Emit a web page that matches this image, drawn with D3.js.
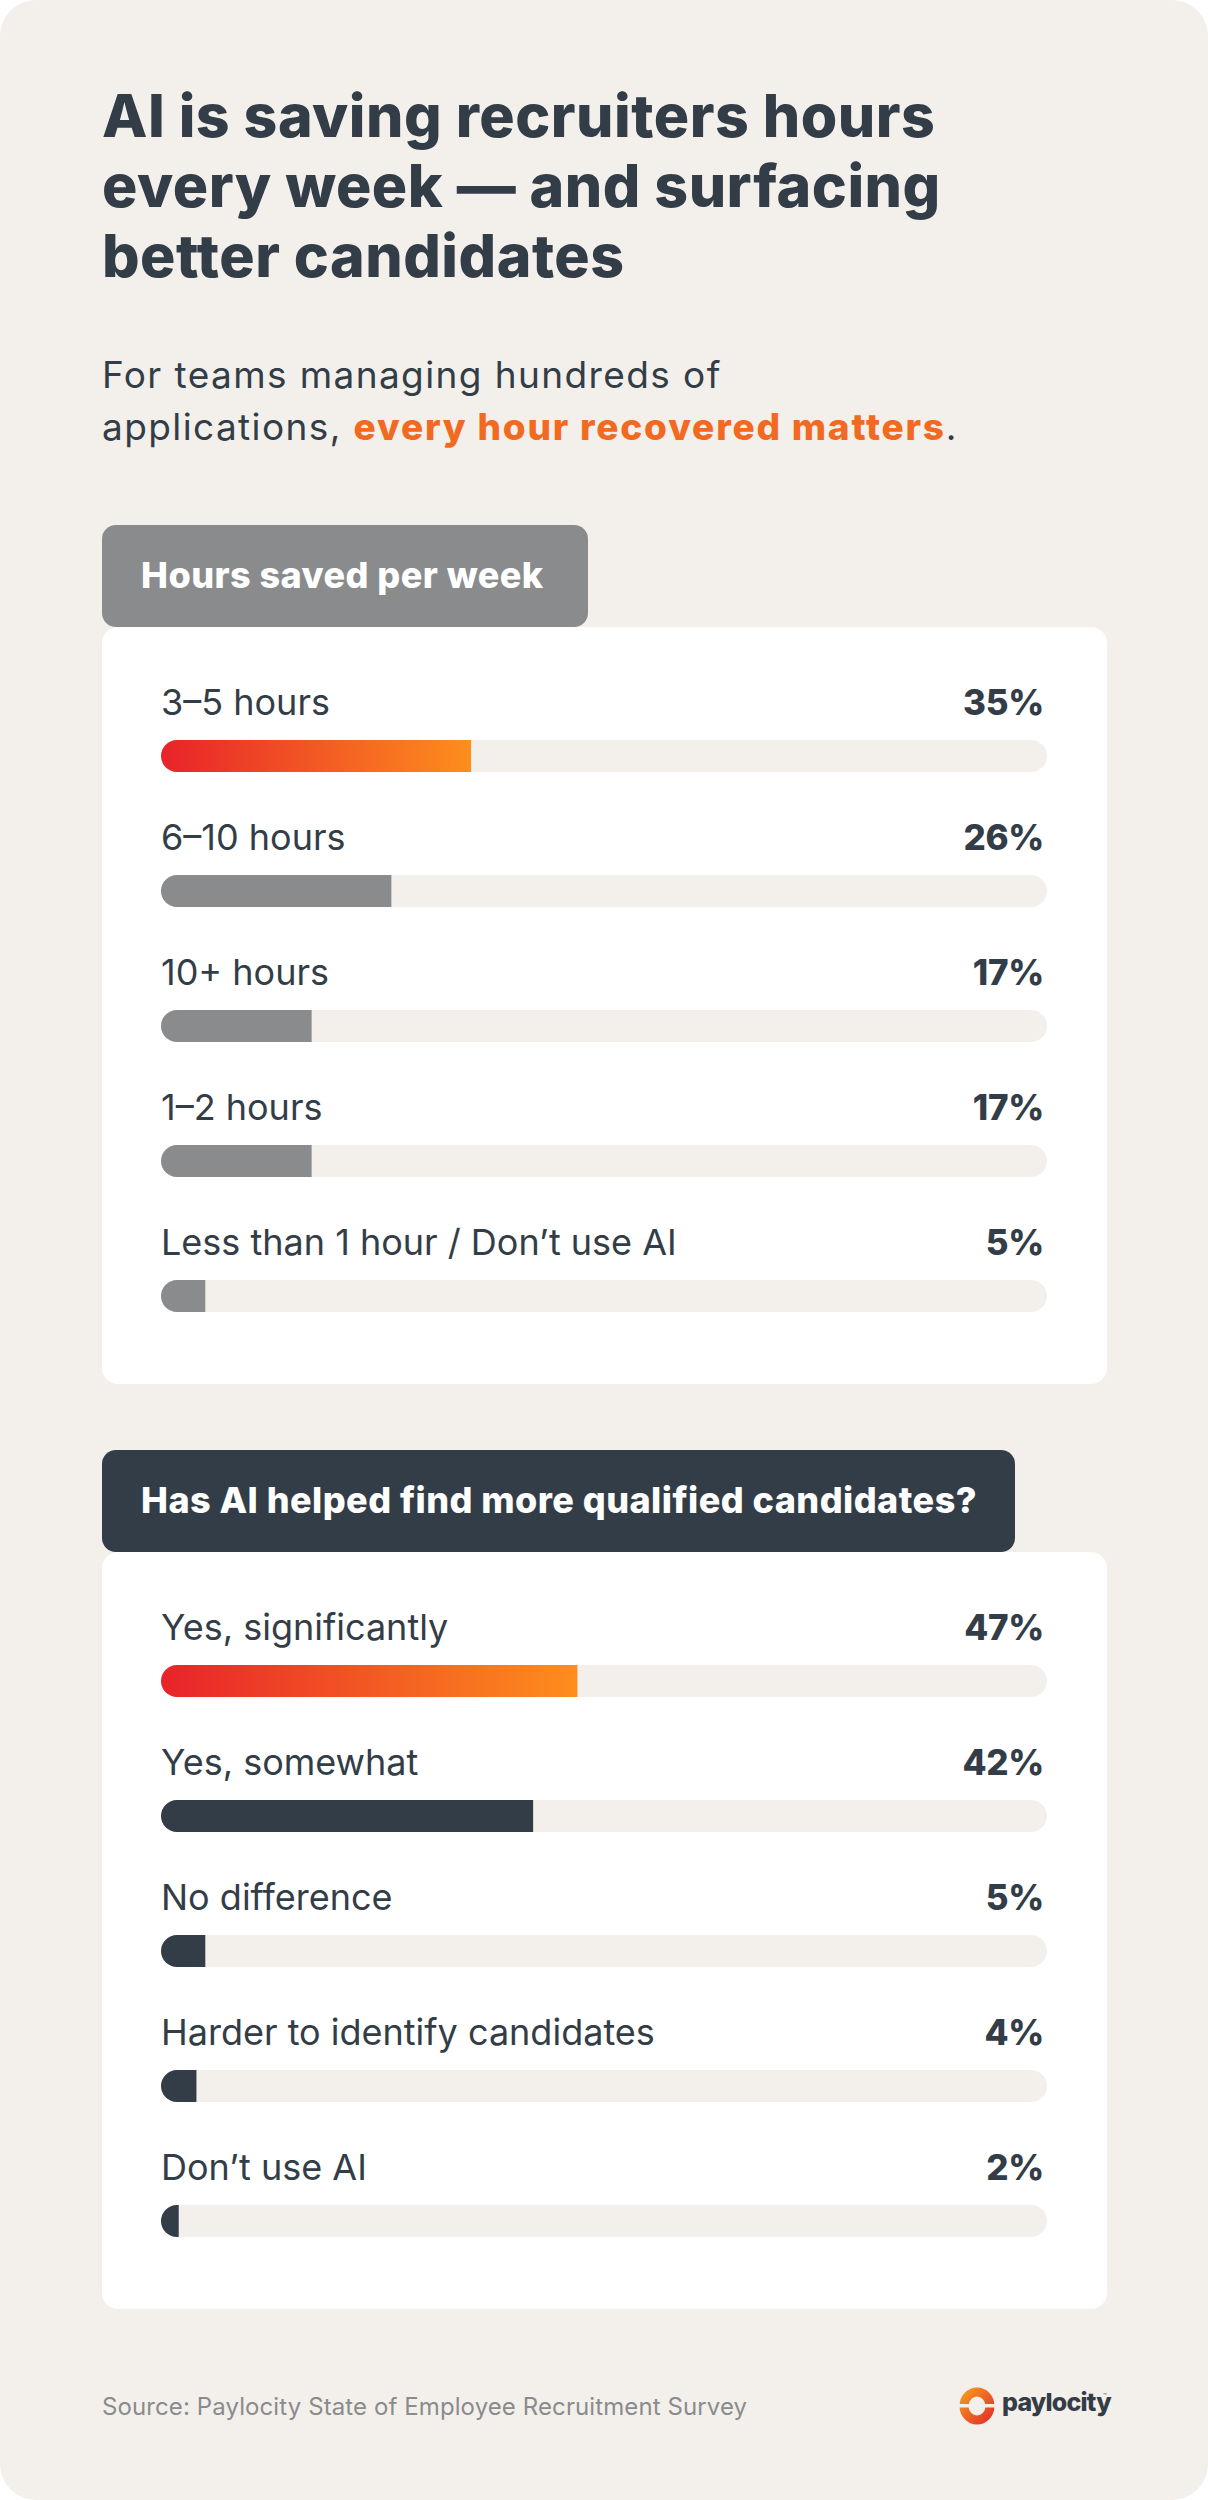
<!DOCTYPE html>
<html><head><meta charset="utf-8">
<script src="https://cdn.jsdelivr.net/npm/d3@7"></script>
<style>
html,body{margin:0;padding:0;background:#fff;}
svg{display:block;font-family:Inter,"Noto Sans",sans-serif;}
</style></head>
<body>
<script>
const titleLines = ["AI is saving recruiters hours", "every week — and surfacing", "better candidates"];
const subtitleLine1 = "For teams managing hundreds of";
const subtitleLine2a = "applications, ";
const subtitleHighlight = "every hour recovered matters";
const subtitleLine2b = ".";

const hoursTitle = "Hours saved per week";
const hoursLabels = ["3–5 hours", "6–10 hours", "10+ hours", "1–2 hours", "Less than 1 hour / Don’t use AI"];
const hoursValues = [35, 26, 17, 17, 5];

const qualTitle = "Has AI helped find more qualified candidates?";
const qualLabels = ["Yes, significantly", "Yes, somewhat", "No difference", "Harder to identify candidates", "Don’t use AI"];
const qualValues = [47, 42, 5, 4, 2];

const sourceText = "Source: Paylocity State of Employee Recruitment Survey";
const brandText = "paylocity";

const W = 1208, H = 2500;
const dark = "#333d47", gray = "#8a8b8d", bg = "#f3f0eb", orange = "#f26a21";

const svg = d3.select("body").append("svg").attr("width", W).attr("height", H);
const defs = svg.append("defs");
const grad = defs.append("linearGradient").attr("id", "hot").attr("x1", "0%").attr("x2", "100%").attr("y1", "0%").attr("y2", "0%");
grad.append("stop").attr("offset", "0%").attr("stop-color", "#e8232a");
grad.append("stop").attr("offset", "100%").attr("stop-color", "#fd8e1d");
const lgrad = defs.append("linearGradient").attr("id", "logoG").attr("x1", "0%").attr("x2", "100%").attr("y1", "0%").attr("y2", "100%");
lgrad.append("stop").attr("offset", "0%").attr("stop-color", "#f7941d");
lgrad.append("stop").attr("offset", "100%").attr("stop-color", "#e2352a");

// background
svg.append("rect").attr("x", 0).attr("y", 0).attr("width", W).attr("height", H).attr("rx", 36).attr("fill", bg);

// title
const tg = svg.append("text").attr("fill", dark).attr("font-weight", 800).attr("font-size", 59).attr("letter-spacing", 0.5);
titleLines.forEach((t, i) => tg.append("tspan").attr("x", 102).attr("y", 137 + i * 70).text(t));

// subtitle
const st = svg.append("text").attr("fill", dark).attr("font-size", 37).attr("letter-spacing", 1.4);
st.append("tspan").attr("x", 102).attr("y", 388).text(subtitleLine1);
st.append("tspan").text(subtitleLine2a).attr("x", 102).attr("y", 440);
st.append("tspan").text(subtitleHighlight).attr("fill", orange).attr("font-weight", 800).attr("letter-spacing", 1.8);
st.append("tspan").text(subtitleLine2b);

const x = d3.scaleLinear().domain([0, 100]).range([161, 1047]);
const barH = 32, pitch = 135;

function section(top, tabW, tabColor, title, labels, values, fillColor, id) {
  const g = svg.append("g");
  const cardTop = top + 102;
  const cardBottom = cardTop + 86 + 27 + 4 * pitch + barH + 72;
  g.append("rect").attr("x", 102).attr("y", cardTop).attr("width", 1005).attr("height", cardBottom - cardTop).attr("rx", 16).attr("fill", "#fff");
  g.append("rect").attr("x", 102).attr("y", top).attr("width", tabW).attr("height", 102).attr("rx", 14).attr("fill", tabColor);
  g.append("text").attr("x", 141).attr("y", top + 63).attr("fill", "#fff").attr("font-weight", 800).attr("font-size", 36).attr("letter-spacing", 0.45).text(title);

  const rows = g.selectAll("g.row").data(labels.map((l, i) => ({ l, v: values[i], i }))).join("g").attr("class", "row")
    .attr("transform", d => `translate(0,${cardTop + 88 + d.i * pitch})`);
  rows.append("text").attr("x", x(0)).attr("y", 0).attr("fill", dark).attr("font-size", 36).attr("letter-spacing", 0).text(d => d.l);
  rows.append("text").attr("x", x(100) - 3).attr("y", 0).attr("text-anchor", "end").attr("fill", dark).attr("font-weight", 800).attr("font-size", 35).attr("letter-spacing", -0.3).text(d => d.v + "%");
  rows.each(function (d) {
    const cid = `clip-${id}-${d.i}`;
    defs.append("clipPath").attr("id", cid).append("rect").attr("x", x(0)).attr("y", 25).attr("width", x(100) - x(0)).attr("height", barH).attr("rx", barH / 2);
    const r = d3.select(this);
    r.append("rect").attr("x", x(0)).attr("y", 25).attr("width", x(100) - x(0)).attr("height", barH).attr("rx", barH / 2).attr("fill", bg);
    r.append("rect").attr("clip-path", `url(#${cid})`).attr("x", x(0)).attr("y", 25).attr("width", x(d.v) - x(0)).attr("height", barH)
      .attr("fill", d.i === 0 ? "url(#hot)" : fillColor);
  });
  return cardBottom;
}

section(525, 486, gray, hoursTitle, hoursLabels, hoursValues, gray, "h");
section(1450, 913, dark, qualTitle, qualLabels, qualValues, dark, "q");

// footer
svg.append("text").attr("x", 102).attr("y", 2415).attr("fill", gray).attr("font-size", 24).attr("letter-spacing", 0.1).text(sourceText);

// logo
const lg = svg.append("g");
lg.append("ellipse").attr("cx", 977).attr("cy", 2406).attr("rx", 13).attr("ry", 14).attr("fill", "none").attr("stroke", "url(#logoG)").attr("stroke-width", 9);
lg.append("rect").attr("x", 957).attr("y", 2404).attr("width", 40).attr("height", 3.5).attr("fill", bg);
lg.append("text").attr("x", 1002).attr("y", 2411).attr("fill", dark).attr("font-weight", 800).attr("font-size", 25).attr("letter-spacing", -0.8).text(brandText);
lg.append("text").attr("x", 1103).attr("y", 2398).attr("fill", dark).attr("font-size", 6).text("™");
</script>
</body></html>
